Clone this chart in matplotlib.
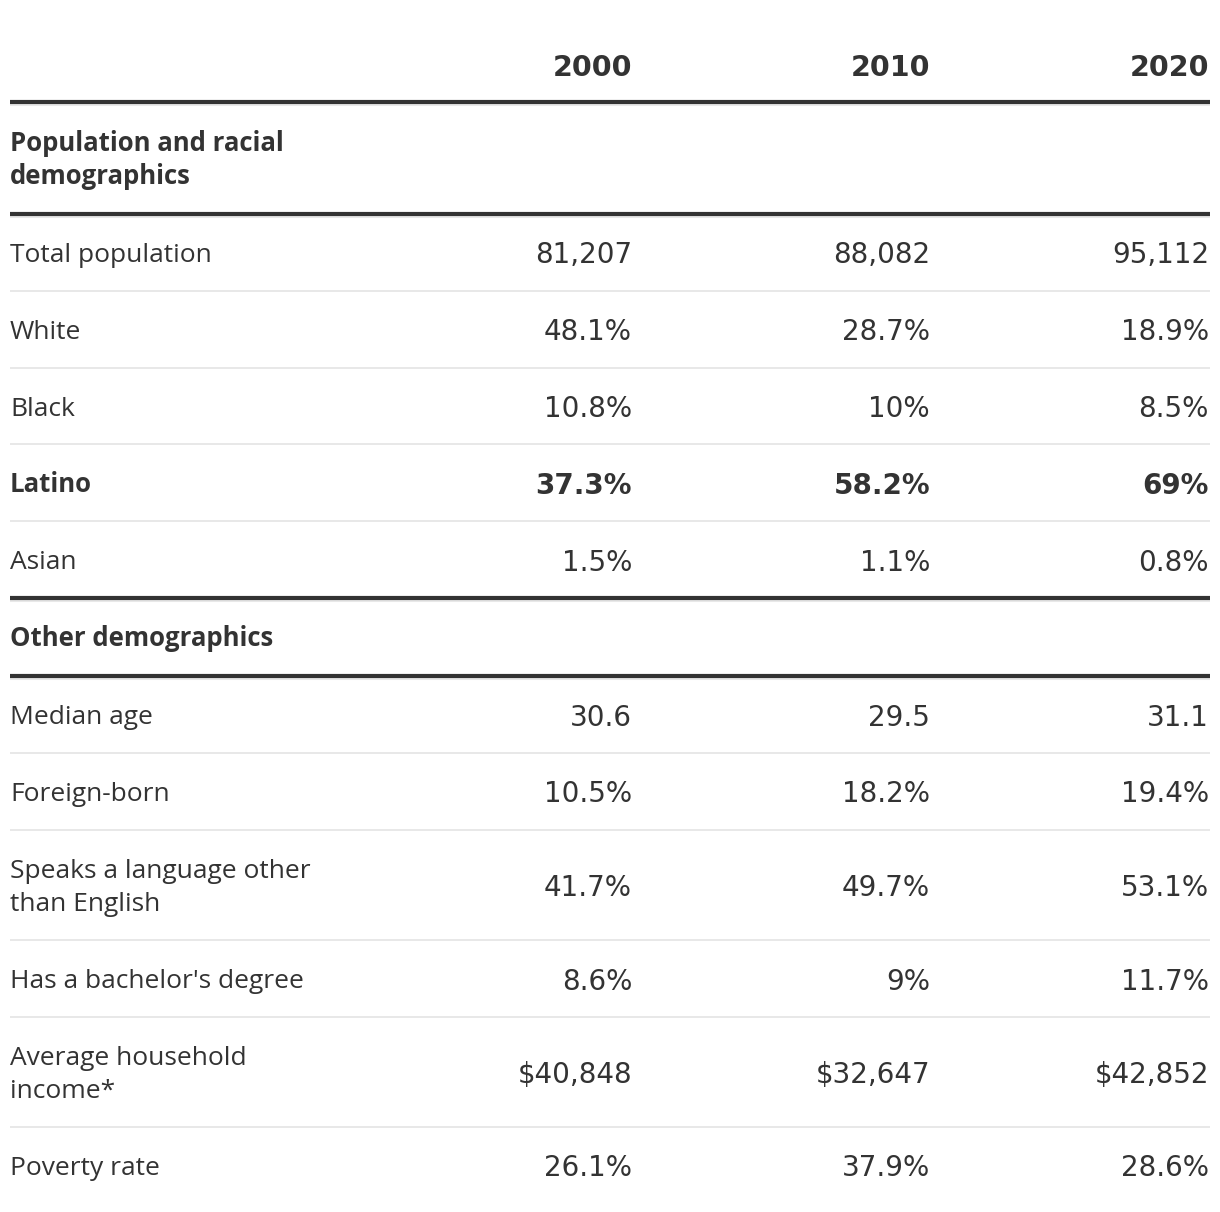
import matplotlib.pyplot as plt

# column headers
years = ['2000', '2010', '2020']

# section 1
section1 = 'Population and racial\ndemographics'
pop_labels = ['Total population', 'White', 'Black', 'Latino', 'Asian']
pop_2000 = ['81,207', '48.1%', '10.8%', '37.3%', '1.5%']
pop_2010 = ['88,082', '28.7%', '10%', '58.2%', '1.1%']
pop_2020 = ['95,112', '18.9%', '8.5%', '69%', '0.8%']
pop_bold = [False, False, False, True, False]

# section 2
section2 = 'Other demographics'
other_labels = ['Median age', 'Foreign-born', 'Speaks a language other\nthan English',
                "Has a bachelor's degree", 'Average household\nincome*', 'Poverty rate']
other_2000 = ['30.6', '10.5%', '41.7%', '8.6%', '$40,848', '26.1%']
other_2010 = ['29.5', '18.2%', '49.7%', '9%', '$32,647', '37.9%']
other_2020 = ['31.1', '19.4%', '53.1%', '11.7%', '$42,852', '28.6%']

W, H = 1220, 1212
fig = plt.figure(figsize=(W / 100, H / 100), dpi=100)
ax = fig.add_axes([0, 0, 1, 1])
ax.set_xlim(0, W)
ax.set_ylim(H, 0)
ax.axis('off')

dark = '#333333'
light = '#e8e8e8'
x_left, x_right = 10, 1210
col_x = [632, 930, 1209]
label_font = 'Open Sans'
num_font = 'DejaVu Sans'
label_fs = 19
section_fs = 18.5
num_fs = 20
gap = 33  # line gap for two-line labels


def thick(y):
    ax.plot([x_left, x_right], [y + 3, y + 3], color=light, lw=1.5, solid_capstyle='butt')
    ax.plot([x_left, x_right], [y, y], color=dark, lw=3, solid_capstyle='butt')


def thin(y):
    ax.plot([x_left, x_right], [y, y], color=light, lw=1.4, solid_capstyle='butt')


def label(mid, text, bold=False):
    lines = text.split('\n')
    first = mid - gap * (len(lines) - 1) / 2
    for k, ln in enumerate(lines):
        ax.text(x_left, first + k * gap + 9.5, ln, ha='left', va='baseline',
                fontsize=section_fs if bold else label_fs, color=dark, family=label_font,
                fontweight='bold' if bold else 'normal')


def row(y0, h, lab, vals, bold=False, last=False):
    mid = y0 + h / 2
    label(mid, lab, bold)
    for x, v in zip(col_x, vals):
        ax.text(x, mid + 11, v, ha='right', va='baseline', fontsize=num_fs, color=dark,
                family=num_font, fontweight='bold' if bold else 'normal')
    if not last:
        thin(y0 + h)


# header
for x, yr in zip(col_x, years):
    ax.text(x, 76, yr, ha='right', va='baseline', fontsize=20.5, color=dark,
            family=num_font, fontweight='bold')
thick(102)

# section 1
label(158, section1, bold=True)
thick(214)
y = 214
h = (598 - 214) / len(pop_labels)
for i, lab in enumerate(pop_labels):
    row(y, h, lab, [pop_2000[i], pop_2010[i], pop_2020[i]], pop_bold[i],
        last=(i == len(pop_labels) - 1))
    y += h
thick(598)

# section 2
label(637, section2, bold=True)
thick(676)
y = 676
for i, lab in enumerate(other_labels):
    h = 110 if '\n' in lab else 77
    row(y, h, lab, [other_2000[i], other_2010[i], other_2020[i]],
        last=(i == len(other_labels) - 1))
    y += h

fig.savefig('out.png', dpi=100, facecolor='white')
